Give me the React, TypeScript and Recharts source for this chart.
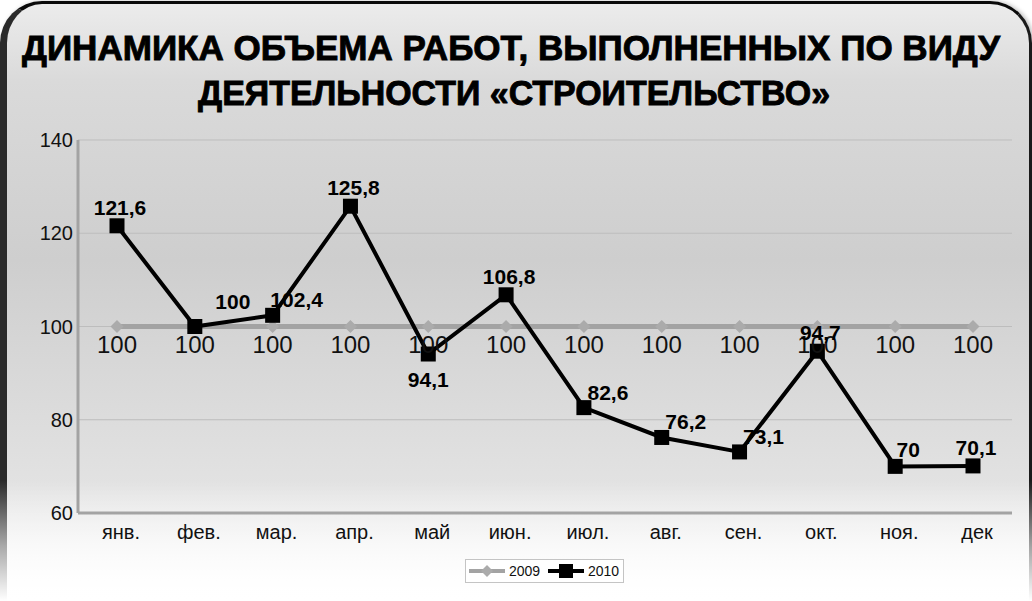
import React from 'react';
import { LineChart, Line, XAxis, YAxis, CartesianGrid, LabelList } from 'recharts';

const months = ['янв.', 'фев.', 'мар.', 'апр.', 'май', 'июн.', 'июл.', 'авг.', 'сен.', 'окт.', 'ноя.', 'дек'];
const values2009 = [100, 100, 100, 100, 100, 100, 100, 100, 100, 100, 100, 100];
const values2010 = [121.6, 100, 102.4, 125.8, 94.1, 106.8, 82.6, 76.2, 73.1, 94.7, 70, 70.1];
const yTicks = [60, 80, 100, 120, 140];
const seriesNames = ['2009', '2010'];
const titleLines = ['ДИНАМИКА ОБЪЕМА РАБОТ, ВЫПОЛНЕННЫХ ПО ВИДУ', 'ДЕЯТЕЛЬНОСТИ «СТРОИТЕЛЬСТВО»'];
// where each 2010 value label sits relative to its point
const labelPlacement2010 = ['top', 'farRight', 'right', 'top', 'bottom', 'top', 'right', 'right', 'right', 'top', 'nearRight', 'top'];

const data = months.map((m, i) => ({ month: m, y2009: values2009[i], y2010: values2010[i] }));

const FONT = '"Liberation Sans", Arial, sans-serif';
const GRAY = '#a3a3a3';

const fmt = (v: number) => String(v).replace('.', ',');

const placementOffset: Record<string, [number, number]> = {
  top: [3, -11],
  right: [24, -8],
  nearRight: [13, -9],
  farRight: [38, -18],
  bottom: [0, 33],
};

const Diamond = (props: any) => {
  const { cx, cy, index } = props;
  if (cx == null || cy == null) return <g key={`d-${index}`} />;
  const r = 6.5;
  return (
    <path
      key={`d-${index}`}
      d={`M${cx},${cy - r} L${cx + r},${cy} L${cx},${cy + r} L${cx - r},${cy} Z`}
      fill="#ababab"
    />
  );
};

const Square = (props: any) => {
  const { cx, cy, index } = props;
  if (cx == null || cy == null) return <g key={`s-${index}`} />;
  const s = 15;
  return <rect key={`s-${index}`} x={cx - s / 2} y={cy - s / 2} width={s} height={s} fill="#000" />;
};

const getXY = (p: any) => {
  const x = p.x ?? p.viewBox?.x;
  const y = p.y ?? p.viewBox?.y;
  return [x, y];
};

const Label2009 = (p: any) => {
  const [x, y] = getXY(p);
  if (x == null || y == null) return null;
  return (
    <text x={x} y={y + 26} textAnchor="middle" fontFamily={FONT} fontSize={24} fill="#111">
      {fmt(p.value)}
    </text>
  );
};

const Label2010 = (p: any) => {
  const [x, y] = getXY(p);
  if (x == null || y == null) return null;
  const idx = p.index ?? values2010.indexOf(Number(p.value));
  const [dx, dy] = placementOffset[labelPlacement2010[idx] ?? 'top'];
  return (
    <text x={x + dx} y={y + dy} textAnchor="middle" fontFamily={FONT} fontSize={21} fontWeight="bold" fill="#000">
      {fmt(p.value)}
    </text>
  );
};

export default function App() {
  return (
    <div style={{ position: 'absolute', left: 0, top: 0, width: 1032, height: 601, background: '#fff', overflow: 'hidden' }}>
      {/* frame */}
      <div
        style={{
          position: 'absolute',
          left: 0,
          top: 1,
          width: 1022,
          height: 640,
          borderTop: '3px solid #0a0a0a',
          borderRight: '3px solid #1a1a1a',
          borderLeft: '7px solid #2a2a2a',
          borderRadius: '42px 42px 30px 30px',
          background: 'linear-gradient(to bottom, #ececec 0%, #dadada 12%, #cecece 40%, #e2e2e2 75%, #fbfbfb 92%, #ffffff 100%)',
          boxShadow: '2px 0 4px rgba(0,0,0,0.25)',
        }}
      />
      {/* fade of frame edges at the bottom */}
      <div
        style={{
          position: 'absolute',
          left: 0,
          top: 480,
          width: 1032,
          height: 121,
          background: 'linear-gradient(to bottom, rgba(255,255,255,0) 0%, rgba(255,255,255,0.6) 55%, rgba(255,255,255,1) 100%)',
        }}
      />
      {/* title */}
      <svg width={1032} height={130} style={{ position: 'absolute', left: 0, top: 0 }}>
        <text
          x={22}
          y={60}
          textLength={978}
          lengthAdjust="spacingAndGlyphs"
          fontFamily={FONT}
          fontWeight="bold"
          fontSize={35}
          fill="#000"
          stroke="#000"
          strokeWidth={0.9}
        >
          {titleLines[0]}
        </text>
        <text
          x={198}
          y={105}
          textLength={632}
          lengthAdjust="spacingAndGlyphs"
          fontFamily={FONT}
          fontWeight="bold"
          fontSize={35}
          fill="#000"
          stroke="#000"
          strokeWidth={0.9}
        >
          {titleLines[1]}
        </text>
      </svg>
      {/* chart */}
      <div style={{ position: 'absolute', left: 0, top: 0 }}>
        <LineChart width={1032} height={601} data={data} margin={{ top: 140, right: 20, bottom: 58, left: 0 }}>
          <CartesianGrid horizontal vertical={false} stroke="#bdbdbd" strokeWidth={1} />
          <XAxis
            dataKey="month"
            padding={{ left: 39, right: 39 }}
            height={30}
            axisLine={{ stroke: GRAY, strokeWidth: 3 }}
            tickLine={false}
            tickSize={8}
            tickMargin={4}
            tick={{ fill: '#111', fontSize: 20, fontFamily: FONT, dx: 4 }}
            interval={0}
          />
          <YAxis
            domain={[60, 140]}
            ticks={yTicks}
            width={78}
            axisLine={{ stroke: GRAY, strokeWidth: 3 }}
            tickLine={false}
            tickSize={3}
            tickMargin={2}
            tick={{ fill: '#111', fontSize: 20, fontFamily: FONT }}
            interval={0}
          />
          <Line
            dataKey="y2009"
            name={seriesNames[0]}
            stroke={GRAY}
            strokeWidth={5}
            dot={Diamond}
            activeDot={false}
            isAnimationActive={false}
          >
            <LabelList dataKey="y2009" content={Label2009} />
          </Line>
          <Line
            dataKey="y2010"
            name={seriesNames[1]}
            stroke="#000"
            strokeWidth={4}
            dot={Square}
            activeDot={false}
            isAnimationActive={false}
          >
            <LabelList dataKey="y2010" content={Label2010} />
          </Line>
        </LineChart>
      </div>
      {/* legend */}
      <div
        style={{
          position: 'absolute',
          left: 465,
          top: 559,
          width: 157,
          height: 22,
          background: '#fff',
          border: '1px solid #c4c4c4',
          fontFamily: FONT,
          fontSize: 14,
          color: '#111',
        }}
      >
        <svg width={157} height={22} style={{ position: 'absolute', left: 0, top: 0 }}>
          <line x1={3} y1={11} x2={39} y2={11} stroke={GRAY} strokeWidth={4} />
          <path d="M21,5 L27,11 L21,17 L15,11 Z" fill="#ababab" />
          <text x={43} y={16} fontFamily={FONT} fontSize={14} fill="#111">{seriesNames[0]}</text>
          <line x1={82} y1={11} x2={118} y2={11} stroke="#000" strokeWidth={4} />
          <rect x={93} y={4} width={14} height={14} fill="#000" />
          <text x={122} y={16} fontFamily={FONT} fontSize={14} fill="#111">{seriesNames[1]}</text>
        </svg>
      </div>
    </div>
  );
}
